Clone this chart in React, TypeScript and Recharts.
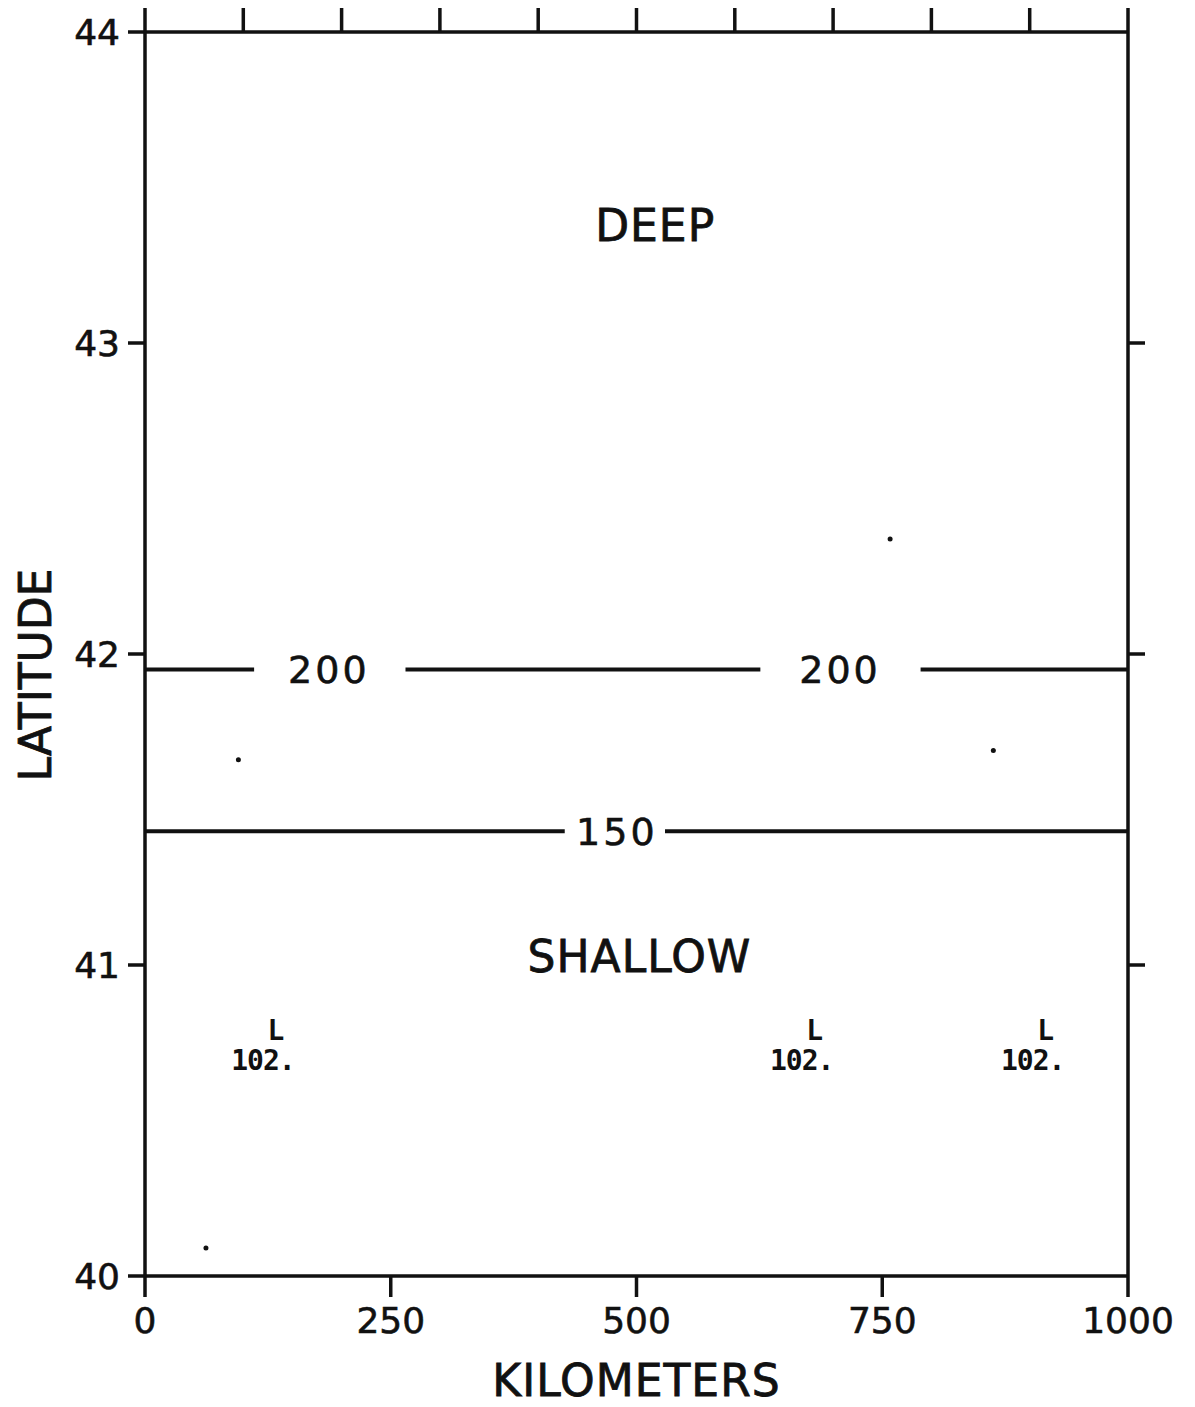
import { ComposedChart, Line, Scatter, XAxis, YAxis } from "recharts"

const kmTicks = [0, 250, 500, 750, 1000]
const kmTopTicks = [0, 100, 200, 300, 400, 500, 600, 700, 800, 900, 1000]
const latTicks = [40, 41, 42, 43, 44]
const latRightTicks = [41, 42, 43]

// contour lines (depth, m): latitude and the drawn pieces between labels
const contour200Lat = 41.95
const contour200Segments = [[0, 111], [265, 626], [789, 1000]]
const contour200LabelKm = [187, 707]
const contour150Lat = 41.43
const contour150Segments = [[0, 427], [529, 1000]]
const contour150LabelKm = [480]

const regionNames = ["DEEP", "SHALLOW"]
const regionKm = [519, 503]
const regionLat = [43.38, 41.03]

const lowKm = [120, 668, 903]
const lowLat = 40.7
const lowValue = "102."

const speckKm = [95, 62, 758, 863]
const speckLat = [41.66, 40.09, 42.37, 41.69]

const FONT = "'DejaVu Sans', sans-serif"
const INK = "#111"

const segmentData = (segs: number[][], lat: number) =>
  segs.map(([a, b]) => [
    { x: a, y: lat },
    { x: b, y: lat },
  ])

const contourLabels = [
  ...contour200LabelKm.map((x) => ({ x, y: contour200Lat, text: "200" })),
  ...contour150LabelKm.map((x) => ({ x, y: contour150Lat, text: "150" })),
]
const regionLabels = regionNames.map((text, i) => ({ x: regionKm[i], y: regionLat[i], text }))
const lows = lowKm.map((x) => ({ x, y: lowLat, text: lowValue }))
const specks = speckKm.map((x, i) => ({ x, y: speckLat[i] }))

const tickStyle = { fontFamily: FONT, fontSize: 36, fill: INK, stroke: INK, strokeWidth: 0.6 }
const noTickLabel = () => <g />
const thick = { stroke: INK, strokeWidth: 3.5 }

export default function App() {
  const lines = [
    ...segmentData(contour200Segments, contour200Lat),
    ...segmentData(contour150Segments, contour150Lat),
  ]
  return (
    <ComposedChart
      width={1195}
      height={1400}
      margin={{ top: 4, right: 55, bottom: 7, left: 57 }}
    >
      <XAxis
        xAxisId="bottom"
        dataKey="x"
        type="number"
        domain={[0, 1000]}
        ticks={kmTicks}
        height={125}
        axisLine={thick}
        tickLine={thick}
        tickSize={21}
        tickMargin={10}
        tick={tickStyle}
        label={{
          content: (p: any) => {
            const vb = p.viewBox
            return (
              <text
                x={vb.x + vb.width / 2}
                y={vb.y + 120}
                textAnchor="middle"
                fontFamily={FONT}
                fontSize={44}
                letterSpacing={1}
                fill={INK}
                stroke={INK}
                strokeWidth={0.8}
              >
                KILOMETERS
              </text>
            )
          },
        }}
      />
      <XAxis
        xAxisId="top"
        orientation="top"
        dataKey="x"
        type="number"
        domain={[0, 1000]}
        ticks={kmTopTicks}
        interval={0}
        height={20}
        axisLine={thick}
        tickLine={thick}
        tickSize={24}
        tick={noTickLabel}
      />
      <YAxis
        yAxisId="left"
        dataKey="y"
        type="number"
        domain={[40, 44]}
        ticks={latTicks}
        width={80}
        axisLine={thick}
        tickLine={thick}
        tickSize={17}
        tickMargin={8}
        tick={tickStyle}
        label={{
          content: (p: any) => {
            const vb = p.viewBox
            const cx = vb.x - 30
            const cy = 667
            return (
              <text
                x={cx}
                y={cy}
                dy="0.36em"
                transform={`rotate(-90, ${cx}, ${cy})`}
                textAnchor="middle"
                fontFamily={FONT}
                fontSize={44}
                fill={INK}
                stroke={INK}
                strokeWidth={0.8}
              >
                LATITUDE
              </text>
            )
          },
        }}
      />
      <YAxis
        yAxisId="right"
        orientation="right"
        dataKey="y"
        type="number"
        domain={[40, 44]}
        ticks={latRightTicks}
        interval={0}
        width={20}
        axisLine={thick}
        tickLine={thick}
        tickSize={17}
        tick={noTickLabel}
      />

      {lines.map((d, i) => (
        <Line
          key={`seg-${i}`}
          data={d}
          dataKey="y"
          xAxisId="bottom"
          yAxisId="left"
          stroke={INK}
          strokeWidth={4}
          dot={false}
          activeDot={false}
          isAnimationActive={false}
        />
      ))}

      <Scatter
        data={contourLabels}
        dataKey="y"
        xAxisId="bottom"
        yAxisId="left"
        isAnimationActive={false}
        shape={(p: any) => (
          <text
            x={p.cx}
            y={p.cy}
            dy="0.36em"
            textAnchor="middle"
            fontFamily={FONT}
            fontSize={38}
            letterSpacing={3}
            fill={INK}
            stroke={INK}
            strokeWidth={0.6}
          >
            {p.payload.text}
          </text>
        )}
      />
      <Scatter
        data={regionLabels}
        dataKey="y"
        xAxisId="bottom"
        yAxisId="left"
        isAnimationActive={false}
        shape={(p: any) => (
          <text
            x={p.cx}
            y={p.cy}
            dy="0.36em"
            textAnchor="middle"
            fontFamily={FONT}
            fontSize={44}
            letterSpacing={1}
            fill={INK}
            stroke={INK}
            strokeWidth={0.8}
          >
            {p.payload.text}
          </text>
        )}
      />
      <Scatter
        data={lows}
        dataKey="y"
        xAxisId="bottom"
        yAxisId="left"
        isAnimationActive={false}
        shape={(p: any) => (
          <g>
            <text
              x={p.cx + 13}
              y={p.cy - 18}
              textAnchor="middle"
              fontFamily="'DejaVu Sans Mono', monospace"
              fontWeight="bold"
              fontSize={28}
              fill={INK}
            >
              L
            </text>
            <text
              x={p.cx}
              y={p.cy + 12}
              textAnchor="middle"
              fontFamily="'DejaVu Sans Mono', monospace"
              fontWeight="bold"
              fontSize={28}
              letterSpacing={-1}
              fill={INK}
            >
              {p.payload.text}
            </text>
          </g>
        )}
      />
      {/* specks ride on the top/right axes (same domains) so those axes get their ticks */}
      <Scatter
        data={specks}
        dataKey="y"
        xAxisId="top"
        yAxisId="right"
        isAnimationActive={false}
        shape={(p: any) => <circle cx={p.cx} cy={p.cy} r={2.5} fill={INK} />}
      />
    </ComposedChart>
  )
}
